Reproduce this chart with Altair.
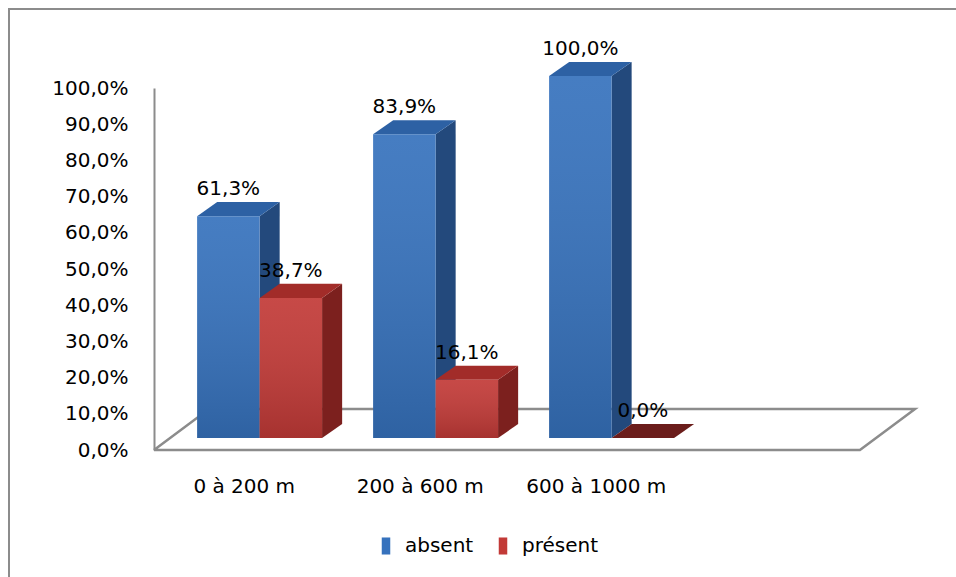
import json
import altair as alt
import pandas as pd

# ---- data ----
categories = ["0 à 200 m", "200 à 600 m", "600 à 1000 m"]
series = ["absent", "présent"]
absent = [61.3, 83.9, 100.0]
present = [38.7, 16.1, 0.0]
y_ticks = [0, 10, 20, 30, 40, 50, 60, 70, 80, 90, 100]

# ---- geometry of the pseudo-3D view (scale units) ----
PAIR_C = 0.6      # pair centre within a category slot
BAR_W = 0.355     # width of one bar
FRONT_DX = 0.09   # bars' front plane vs axis plane
FRONT_DY = 3.3
DEPTH_DX = 0.114  # bar depth
DEPTH_DY = 3.9
FLOOR_RIGHT = 4.011
FLOOR_DX = 0.3125
FLOOR_DY = 11.3
X_MAX = 4.324

FRONT_COL = {"absent": "#3672bd", "présent": "#c23a37"}
SIDE_COL = {"absent": "#23497c", "présent": "#7c201e"}
TOP_COL = {"absent": "#2d61a4", "présent": "#a22c29"}
ZERO_TOP = "#6b1d1b"
FONT = "DejaVu Sans"
FS = 20
GRAY = "#8c8c8c"

front_rows, side_rows, top_rows, label_rows = [], [], [], []
for i, cat in enumerate(categories):
    c = i + PAIR_C
    for s, vals in zip(series, [absent, present]):
        v = vals[i]
        xl = c - BAR_W if s == "absent" else c
        xr = xl + BAR_W
        b = FRONT_DY
        t = FRONT_DY + v
        fid = f"{cat}-{s}"
        front_rows.append(dict(series=s, x=xl, x2=xr, y=t, y2=b))
        side_rows += [
            dict(face=fid, col=SIDE_COL[s], x=xr, y=t, y2=b),
            dict(face=fid, col=SIDE_COL[s], x=xr + DEPTH_DX, y=t + DEPTH_DY, y2=b + DEPTH_DY),
        ]
        tc = ZERO_TOP if v == 0 else TOP_COL[s]
        top_rows += [
            dict(face=fid, col=tc, x=xl, y=t, y2=t),
            dict(face=fid, col=tc, x=xl + DEPTH_DX, y=t + DEPTH_DY, y2=t),
            dict(face=fid, col=tc, x=xr, y=t + DEPTH_DY, y2=t),
            dict(face=fid, col=tc, x=xr + DEPTH_DX, y=t + DEPTH_DY, y2=t + DEPTH_DY),
        ]
        label_rows.append(dict(x=(xl + xr) / 2, y=t + DEPTH_DY,
                               label=f"{v:.1f}".replace(".", ",") + "%"))

floor_rows = [
    dict(o=0, x=0, y=0),
    dict(o=1, x=FLOOR_RIGHT, y=0),
    dict(o=2, x=X_MAX, y=FLOOR_DY),
    dict(o=3, x=FLOOR_DX, y=FLOOR_DY),
    dict(o=4, x=0, y=0),
]

front_df = pd.DataFrame(front_rows)
side_df = pd.DataFrame(side_rows)
top_df = pd.DataFrame(top_rows)
label_df = pd.DataFrame(label_rows)
floor_df = pd.DataFrame(floor_rows)

cat_js = json.dumps(categories, ensure_ascii=False)
x_scale = alt.Scale(domain=[0, X_MAX], nice=False, zero=False)
y_scale = alt.Scale(domain=[0, 100], nice=False, zero=True)

x_axis = alt.Axis(
    values=[i + PAIR_C - FRONT_DX for i in range(len(categories))],
    labelExpr=f"{cat_js}[floor(datum.value)]",
    domain=False, ticks=False, grid=False, title=None,
    labelPadding=26, labelFontSize=FS, labelFont=FONT, labelColor="#000000",
)
y_axis = alt.Axis(
    values=y_ticks,
    labelExpr="replace(format(datum.value, '.1f'), '.', ',') + '%'",
    domainColor=GRAY, domainWidth=2, ticks=False, grid=False, title=None,
    labelPadding=26, labelFontSize=FS, labelFont=FONT, labelColor="#000000",
)


def X(field="x"):
    return alt.X(f"{field}:Q", scale=x_scale, axis=x_axis)


def Y(field="y"):
    return alt.Y(f"{field}:Q", scale=y_scale, axis=y_axis)


frame = alt.Chart(pd.DataFrame({"k": [0]})).mark_rect(
    fill=None, stroke=GRAY, strokeWidth=2
).encode(
    x=alt.value(-145), x2=alt.value(900), y=alt.value(-79), y2=alt.value(600)
)

floor = alt.Chart(floor_df).mark_line(color=GRAY, strokeWidth=2.5).encode(
    x=X(), y=Y(), order="o:Q"
)

sides = alt.Chart(side_df).mark_area(orient="vertical", interpolate="linear").encode(
    x=X(), y=Y(), y2="y2:Q", detail="face:N", color=alt.Color("col:N", scale=None)
)

tops = alt.Chart(top_df).mark_area(orient="vertical", interpolate="linear").encode(
    x=X(), y=Y(), y2="y2:Q", detail="face:N", color=alt.Color("col:N", scale=None)
)

fronts = alt.Chart(front_df).mark_rect().encode(
    x=X(), x2="x2:Q", y=Y(), y2="y2:Q",
    color=alt.Color(
        "series:N",
        scale=alt.Scale(domain=series, range=[FRONT_COL[s] for s in series]),
        legend=alt.Legend(
            title=None, orient="none", legendX=222, legendY=448,
            direction="horizontal",
            symbolType="M-0.5,-1H0.5V1H-0.5Z", symbolSize=290,
            symbolStrokeWidth=0, labelFontSize=FS, labelFont=FONT,
            labelColor="#000000", labelOffset=9, columnPadding=19,
        ),
    ),
)

shade = alt.Chart(front_df).mark_rect(
    color=alt.Gradient(
        gradient="linear",
        stops=[
            alt.GradientStop(color="rgba(255,255,255,0.08)", offset=0),
            alt.GradientStop(color="rgba(0,0,0,0.14)", offset=1),
        ],
        x1=0, x2=0, y1=0, y2=1,
    )
).encode(x=X(), x2="x2:Q", y=Y(), y2="y2:Q")

labels = alt.Chart(label_df).mark_text(
    font=FONT, fontSize=FS, color="#000000", baseline="alphabetic", dy=-7
).encode(x=X(), y=Y(), text="label:N")

chart = alt.layer(frame, floor, sides, tops, fronts, shade, labels).properties(
    width=761, height=362,
    autosize=alt.AutoSizeParams(type="none"),
    padding={"left": 154, "top": 88, "right": 41, "bottom": 127},
    background="#ffffff",
).configure_view(stroke=None)

chart.save("out.html", embed_options={"renderer": "svg", "actions": False})
